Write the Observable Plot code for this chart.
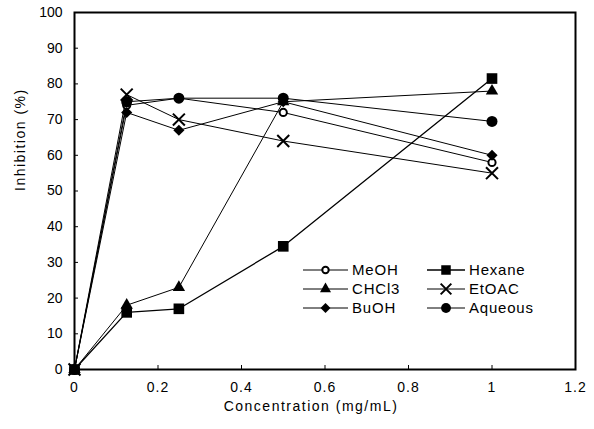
<!DOCTYPE html>
<html>
<head>
<meta charset="utf-8">
<script src="https://cdn.jsdelivr.net/npm/d3@7"></script>
<script src="https://cdn.jsdelivr.net/npm/@observablehq/plot@0.6"></script>
<style>
  html, body { margin: 0; padding: 0; background: #fff; }
  #wrap { position: relative; width: 594px; height: 429px; font-family: "Liberation Sans", Arial, sans-serif; }
  #legend { position: absolute; left: 296px; top: 258px; }
</style>
</head>
<body>
<div id="wrap"><div id="chart"></div><svg id="legend" width="260" height="62"></svg></div>
<script>
const conc = [0, 0.125, 0.25, 0.5, 1];
const seriesNames = ["MeOH", "CHCl3", "BuOH", "Hexane", "EtOAC", "Aqueous"];
const meoh    = [0, 74, 76, 72, 58];
const chcl3   = [0, 18, 23, 75, 78];
const buoh    = [0, 72, 67, 75, 60];
const hexane  = [0, 16, 17, 34.5, 81.5];
const etoac   = [0, 77, 70, 64, 55];
const aqueous = [0, 75, 76, 76, 69.5];
const xTicks = [0, 0.2, 0.4, 0.6, 0.8, 1, 1.2];
const yTicks = [0, 10, 20, 30, 40, 50, 60, 70, 80, 90, 100];
const xTitle = "Concentration (mg/mL)";
const yTitle = "Inhibition (%)";

const values = [meoh, chcl3, buoh, hexane, etoac, aqueous];
const styles = {
  MeOH:    {symbol: "circle",   fill: "white", stroke: "black", strokeWidth: 2, r: 3.6},
  CHCl3:   {symbol: "triangle", fill: "black", stroke: "none", strokeWidth: 0, r: 4.6},
  BuOH:    {symbol: "diamond2", fill: "black", stroke: "none", strokeWidth: 0, r: 5},
  Hexane:  {symbol: "square",   fill: "black", stroke: "none", strokeWidth: 0, r: 6},
  EtOAC:   {symbol: "times",    fill: "none",  stroke: "black", strokeWidth: 2, r: 5.5},
  Aqueous: {symbol: "circle",   fill: "black", stroke: "none", strokeWidth: 0, r: 5.5}
};
const data = seriesNames.flatMap((s, i) => conc.map((c, j) => ({series: s, x: c, y: values[i][j]})));

const drawOrder = ["MeOH", "BuOH", "CHCl3", "Hexane", "Aqueous", "EtOAC"];
const marks = [];
for (const s of drawOrder) {
  marks.push(Plot.line(data.filter(d => d.series === s), {x: "x", y: "y", stroke: "black", strokeWidth: s === "Hexane" ? 1.3 : 1}));
}
for (const s of drawOrder) {
  const st = styles[s];
  marks.push(Plot.dot(data.filter(d => d.series === s), {x: "x", y: "y", symbol: () => st.symbol, r: st.r, fill: st.fill, stroke: st.stroke, strokeWidth: st.strokeWidth}));
}

const chart = Plot.plot({
  width: 594,
  height: 429,
  marginLeft: 74,
  marginRight: 19,
  marginTop: 12,
  marginBottom: 60,
  style: {fontFamily: "Liberation Sans, Arial, sans-serif", fontSize: "14px", color: "black", background: "white", overflow: "visible"},
  symbol: {type: "identity"},
  x: {domain: [0, 1.2]},
  y: {domain: [0, 100]},
  marks: [
    Plot.axisX({ticks: xTicks, tickSize: 0, tickPadding: 13, tickFormat: d => String(d), fontSize: 14, label: null}),
    Plot.axisX({ticks: xTicks, tickSize: -4, tickFormat: () => "", label: null}),
    Plot.axisY({ticks: yTicks, tickSize: 0, tickPadding: 12, fontSize: 14, label: null}),
    Plot.axisY({ticks: yTicks, tickSize: -4, tickFormat: () => "", label: null}),
    Plot.text([xTitle], {frameAnchor: "bottom", dy: 41, dx: -14, text: d => d, fontSize: 14}),
    Plot.text([yTitle], {frameAnchor: "left", dx: -54, rotate: -90, text: d => d, fontSize: 14}),
    ...marks,
    Plot.frame({stroke: "black", strokeWidth: 2})
  ]
});
document.getElementById("chart").appendChild(chart);
const svg = d3.select(chart);
const tickLabels = new Set(xTicks.map(String));
svg.selectAll("text").each(function () {
  const t = this.textContent;
  if (t === xTitle || t === yTitle) this.setAttribute("letter-spacing", "1.5");
  else if (tickLabels.has(t) && this.closest('g[aria-label="x-axis tick label"]')) this.setAttribute("letter-spacing", "1");
});

// Legend (two columns, three rows)
const legendOrder = ["MeOH", "Hexane", "CHCl3", "EtOAC", "BuOH", "Aqueous"];
const symMap = {circle: d3.symbolCircle, triangle: d3.symbolTriangle, diamond2: d3.symbolDiamond2, square: d3.symbolSquare, times: d3.symbolTimes};
const lg = d3.select("#legend");
legendOrder.forEach((s, i) => {
  const col = i % 2, row = Math.floor(i / 2);
  const st = styles[s];
  const gx = col === 0 ? 7 : 131;
  const lineLen = col === 0 ? 45 : 38;
  const g = lg.append("g").attr("transform", `translate(${gx},${12 + row * 19})`);
  g.append("line").attr("x1", 0).attr("x2", lineLen).attr("y1", 0).attr("y2", 0).attr("stroke", "black").attr("stroke-width", s === "Hexane" ? 1.5 : 1);
  g.append("path")
    .attr("transform", `translate(${lineLen / 2},0)`)
    .attr("d", d3.symbol(symMap[st.symbol], Math.PI * st.r * st.r * 0.8)())
    .attr("fill", st.fill).attr("stroke", st.stroke).attr("stroke-width", st.strokeWidth);
  g.append("text").attr("x", lineLen + 4).attr("y", 0).attr("dy", "0.36em")
    .attr("font-size", 15).attr("font-family", "Liberation Sans, Arial, sans-serif")
    .attr("letter-spacing", "0.8px").text(s);
});
</script>
</body>
</html>
